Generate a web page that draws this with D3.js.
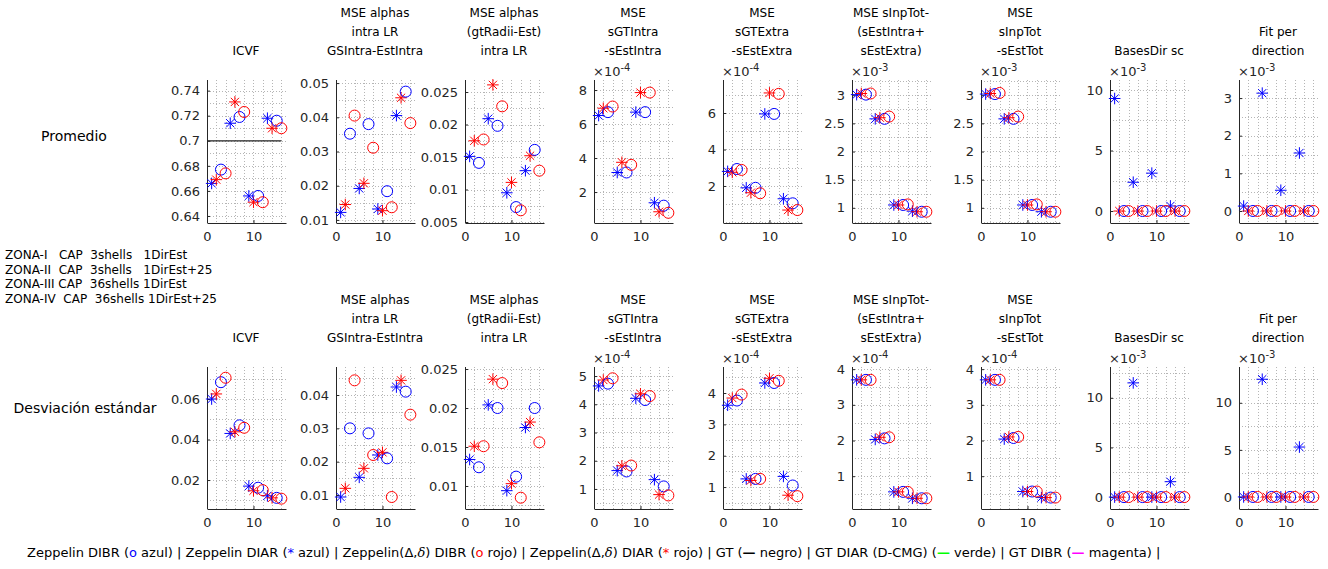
<!DOCTYPE html>
<html>
<head>
<meta charset="utf-8">
<script src="https://cdn.jsdelivr.net/npm/d3@7"></script>
<style>
  body { margin: 0; background: #fff; }
  svg text { font-family: "DejaVu Sans", sans-serif; }
</style>
</head>
<body>
<svg id="fig" width="1328" height="569"></svg>
<script>
// ---------------- data ----------------
const zoneLabels = [
  "ZONA-I   CAP  3shells   1DirEst",
  "ZONA-II  CAP  3shells   1DirEst+25",
  "ZONA-III CAP  36shells 1DirEst",
  "ZONA-IV  CAP  36shells 1DirEst+25"
];

const rowLabels = ["Promedio", "Desviación estándar"];

const panelTitles = [
  ["ICVF"],
  ["MSE alphas", "intra LR", "GSIntra-EstIntra"],
  ["MSE alphas", "(gtRadii-Est)", "intra LR"],
  ["MSE", "sGTIntra", "-sEstIntra"],
  ["MSE", "sGTExtra", "-sEstExtra"],
  ["MSE sInpTot-", "(sEstIntra+", "sEstExtra)"],
  ["MSE", "sInpTot", "-sEstTot"],
  ["BasesDir sc"],
  ["Fit per", "direction"]
];

// series order inside each zone: DIAR azul (*), DIAR rojo (*), DIBR azul (o), DIBR rojo (o)
const seriesNames = ["Zeppelin DIAR", "Zeppelin(Δ,δ) DIAR", "Zeppelin DIBR", "Zeppelin(Δ,δ) DIBR"];
const seriesMarkers = ["star", "star", "circle", "circle"];
const seriesColors = ["#0000ff", "#ff0000", "#0000ff", "#ff0000"];

// Promedio: one row per metric, four zones each
const promedioDiarAzul = [
  [0.666, 0.714, 0.656, 0.718],
  [0.0122, 0.0192, 0.0132, 0.0405],
  [0.0151, 0.0209, 0.0095, 0.0129],
  [6.50e-4, 3.15e-4, 6.70e-4, 1.37e-4],
  [2.80e-4, 1.90e-4, 5.95e-4, 1.30e-4],
  [3.01e-3, 2.58e-3, 1.05e-3, 0.94e-3],
  [3.02e-3, 2.58e-3, 1.05e-3, 0.93e-3],
  [9.30e-3, 2.38e-3, 3.13e-3, 0.42e-3],
  [0.13e-3, 3.13e-3, 0.55e-3, 1.54e-3]
];
const promedioDiarRojo = [
  [0.669, 0.731, 0.651, 0.710],
  [0.0145, 0.0207, 0.0127, 0.0457],
  [0.0175, 0.0261, 0.0111, 0.0152],
  [6.93e-4, 3.75e-4, 7.85e-4, 0.84e-4],
  [2.75e-4, 1.63e-4, 7.10e-4, 0.68e-4],
  [3.03e-3, 2.60e-3, 1.05e-3, 0.93e-3],
  [3.03e-3, 2.60e-3, 1.05e-3, 0.93e-3],
  [0, 0, 0, 0],
  [0, 0, 0, 0]
];
const promedioDibrAzul = [
  [0.677, 0.719, 0.656, 0.716],
  [0.0352, 0.0380, 0.0184, 0.0475],
  [0.0141, 0.0198, 0.0073, 0.0161],
  [6.70e-4, 3.15e-4, 6.70e-4, 1.20e-4],
  [2.93e-4, 1.90e-4, 5.95e-4, 1.05e-4],
  [3.01e-3, 2.58e-3, 1.05e-3, 0.93e-3],
  [3.02e-3, 2.58e-3, 1.05e-3, 0.93e-3],
  [0, 0, 0, 0],
  [0, 0, 0, 0]
];
const promedioDibrRojo = [
  [0.674, 0.723, 0.651, 0.710],
  [0.0405, 0.0311, 0.0137, 0.0383],
  [0.0177, 0.0228, 0.0068, 0.0129],
  [7.03e-4, 3.60e-4, 7.85e-4, 0.78e-4],
  [2.88e-4, 1.60e-4, 7.05e-4, 0.68e-4],
  [3.03e-3, 2.62e-3, 1.06e-3, 0.93e-3],
  [3.04e-3, 2.62e-3, 1.06e-3, 0.93e-3],
  [0, 0, 0, 0],
  [0, 0, 0, 0]
];

// Desviación estándar
const desvDiarAzul = [
  [0.0600, 0.0430, 0.0170, 0.0122],
  [0.0094, 0.0153, 0.0220, 0.0424],
  [0.0134, 0.0204, 0.0094, 0.0175],
  [4.65e-4, 1.65e-4, 4.21e-4, 1.33e-4],
  [3.61e-4, 1.26e-4, 4.32e-4, 1.34e-4],
  [3.70e-4, 2.03e-4, 0.56e-4, 0.38e-4],
  [3.70e-4, 2.04e-4, 0.57e-4, 0.40e-4],
  [0, 11.5e-3, 0, 1.55e-3],
  [0, 12.5e-3, 0, 5.30e-3]
];
const desvDiarRojo = [
  [0.0625, 0.0438, 0.0147, 0.0112],
  [0.0120, 0.0180, 0.0228, 0.0444],
  [0.0151, 0.0237, 0.0103, 0.0182],
  [4.86e-4, 1.82e-4, 4.37e-4, 0.80e-4],
  [3.84e-4, 1.21e-4, 4.47e-4, 0.74e-4],
  [3.70e-4, 2.09e-4, 0.56e-4, 0.38e-4],
  [3.70e-4, 2.10e-4, 0.57e-4, 0.40e-4],
  [0, 0, 0, 0],
  [0, 0, 0, 0]
];
const desvDibrAzul = [
  [0.0683, 0.0470, 0.0162, 0.0112],
  [0.0300, 0.0285, 0.0210, 0.0410],
  [0.0124, 0.0200, 0.0112, 0.0200],
  [4.73e-4, 1.62e-4, 4.15e-4, 1.09e-4],
  [3.76e-4, 1.26e-4, 4.32e-4, 1.05e-4],
  [3.70e-4, 2.06e-4, 0.56e-4, 0.38e-4],
  [3.70e-4, 2.07e-4, 0.57e-4, 0.40e-4],
  [0, 0, 0, 0],
  [0, 0, 0, 0]
];
const desvDibrRojo = [
  [0.0705, 0.0458, 0.0150, 0.0108],
  [0.0444, 0.0220, 0.0094, 0.0341],
  [0.0151, 0.0232, 0.0085, 0.0156],
  [4.92e-4, 1.83e-4, 4.29e-4, 0.77e-4],
  [3.95e-4, 1.26e-4, 4.39e-4, 0.71e-4],
  [3.70e-4, 2.09e-4, 0.56e-4, 0.38e-4],
  [3.70e-4, 2.10e-4, 0.57e-4, 0.40e-4],
  [0, 0, 0, 0],
  [0, 0, 0, 0]
];

// ground-truth reference (ICVF mean only)
const gtIcvf = 0.7;

// y axis: exponent shown above the axis, tick marks and limits in axis units
const promedioExponents = [0, 0, 0, -4, -4, -3, -3, -3, -3];
const promedioTicks = [
  [0.64, 0.66, 0.68, 0.7, 0.72, 0.74],
  [0.01, 0.02, 0.03, 0.04, 0.05],
  [0.005, 0.01, 0.015, 0.02, 0.025],
  [2, 4, 6, 8],
  [2, 4, 6],
  [1, 1.5, 2, 2.5, 3],
  [1, 1.5, 2, 2.5, 3],
  [0, 5, 10],
  [0, 1, 2, 3]
];
const promedioLimits = [
  [0.6344, 0.7485], [0.0091, 0.0509], [0.00485, 0.02685], [0.18, 8.59], [-0.03, 7.81],
  [0.73, 3.27], [0.73, 3.27], [-0.99, 10.83], [-0.32, 3.48]
];

const desvExponents = [0, 0, 0, -4, -4, -4, -4, -3, -3];
const desvTicks = [
  [0.02, 0.04, 0.06],
  [0.01, 0.02, 0.03, 0.04],
  [0.01, 0.015, 0.02, 0.025],
  [1, 2, 3, 4, 5],
  [1, 2, 3, 4],
  [1, 2, 3, 4],
  [1, 2, 3, 4],
  [0, 5, 10],
  [0, 5, 10]
];
const desvLimits = [
  [0.0057, 0.0758], [0.0058, 0.0484], [0.00705, 0.02526], [0.29, 5.32], [0.30, 4.83],
  [0.08, 4.06], [0.08, 4.06], [-1.2, 13.1], [-1.28, 13.8]
];

const xTicks = [0, 10];
const xLimits = [0, 17];

// ---------------- layout ----------------
const svg = d3.select("#fig");
const ink = "#262626";
const gridInk = "#b5b5b5";

const layout = {
  left0: 207, step: 129, width: 79,
  rows: [
    { top: 80, bottom: 223, titleBase: 55 },
    { top: 367, bottom: 509, titleBase: 342 }
  ]
};

const rows = [
  { label: rowLabels[0], exps: promedioExponents, ticks: promedioTicks, limits: promedioLimits,
    series: [promedioDiarAzul, promedioDiarRojo, promedioDibrAzul, promedioDibrRojo], labelX: 74, labelY: 141 },
  { label: rowLabels[1], exps: desvExponents, ticks: desvTicks, limits: desvLimits,
    series: [desvDiarAzul, desvDiarRojo, desvDibrAzul, desvDibrRojo], labelX: 85, labelY: 413 }
];

const starPath = "M-5.8,0H5.8M0,-5.8V5.8M-4.1,-4.1L4.1,4.1M-4.1,4.1L4.1,-4.1";

function fmt(v) {
  return String(+v.toFixed(6));
}

rows.forEach((row, r) => {
  const geo = layout.rows[r];

  svg.append("text")
    .attr("x", row.labelX).attr("y", row.labelY)
    .attr("text-anchor", "middle")
    .attr("font-size", 14).attr("fill", "#000")
    .text(row.label);

  panelTitles.forEach((title, p) => {
    const x0 = layout.left0 + p * layout.step;
    const e = row.exps[p];
    const k = Math.pow(10, e);

    const x = d3.scaleLinear().domain(xLimits).range([x0, x0 + layout.width]);
    const y = d3.scaleLinear().domain(row.limits[p].map(v => v * k)).range([geo.bottom, geo.top]);

    const g = svg.append("g");

    // dotted grid (major + minor)
    const tks = row.ticks[p];
    const tStep = tks[1] - tks[0];
    const yGrid = [];
    for (let v = tks[0] - 4 * tStep; v <= tks[tks.length - 1] + 4 * tStep + 1e-9; v += tStep / 2) {
      const vv = +v.toFixed(8);
      if (vv >= row.limits[p][0] && vv <= row.limits[p][1]) yGrid.push(vv * k);
    }
    g.selectAll(".gy").data(yGrid).join("line")
      .attr("x1", x(xLimits[0])).attr("x2", x(xLimits[1]))
      .attr("y1", d => Math.round(y(d)) + 0.5).attr("y2", d => Math.round(y(d)) + 0.5)
      .attr("stroke", gridInk).attr("stroke-width", 1).attr("stroke-dasharray", "1,2");

    const xGrid = d3.range(2, xLimits[1] + 0.01, 2);
    g.selectAll(".gx").data(xGrid).join("line")
      .attr("x1", d => Math.round(x(d)) + 0.5).attr("x2", d => Math.round(x(d)) + 0.5)
      .attr("y1", geo.top).attr("y2", geo.bottom)
      .attr("stroke", gridInk).attr("stroke-width", 1).attr("stroke-dasharray", "1,2");

    // axes (ticks point inward)
    const yAxis = d3.axisLeft(y)
      .tickValues(tks.map(v => v * k))
      .tickFormat(v => fmt(v / k))
      .tickSizeInner(-3).tickSizeOuter(0).tickPadding(7);
    const ya = g.append("g").attr("transform", `translate(${x0},0)`).call(yAxis);

    const xAxis = d3.axisBottom(x)
      .tickValues(xTicks).tickFormat(d3.format("d"))
      .tickSizeInner(-3).tickSizeOuter(0).tickPadding(9);
    const xa = g.append("g").attr("transform", `translate(0,${geo.bottom})`).call(xAxis);

    [ya, xa].forEach(a => {
      a.select(".domain").attr("stroke", ink).attr("stroke-width", 1);
      a.selectAll(".tick line").attr("stroke", ink);
      a.selectAll(".tick text").attr("fill", ink).attr("font-size", 13)
        .attr("font-family", "DejaVu Sans, sans-serif");
    });
    ya.select(".domain").attr("d", `M0.5,${geo.bottom}V${geo.top}`);

    // exponent label
    if (e !== 0) {
      const t = g.append("text")
        .attr("x", x0 - 1).attr("y", geo.top - 4)
        .attr("font-size", 13).attr("fill", ink);
      t.append("tspan").text("×10");
      t.append("tspan").attr("dy", -5).attr("font-size", 10).text(String(e));
    }

    // title
    const tt = svg.append("text")
      .attr("text-anchor", "middle").attr("font-size", 12).attr("fill", "#000");
    title.forEach((line, i) => {
      tt.append("tspan")
        .attr("x", x0 + 39)
        .attr("y", geo.titleBase - (title.length - 1 - i) * 19)
        .text(line);
    });

    // ground truth line
    if (r === 0 && p === 0) {
      g.append("line")
        .attr("x1", x(0)).attr("x2", x(16))
        .attr("y1", y(gtIcvf)).attr("y2", y(gtIcvf))
        .attr("stroke", "#222").attr("stroke-width", 1.3);
    }

    // markers
    row.series.forEach((ser, s) => {
      const pts = ser[p].map((v, z) => ({ xi: z * 4 + s + 1, v }));
      if (seriesMarkers[s] === "circle") {
        g.selectAll(null).data(pts).join("circle")
          .attr("cx", d => x(d.xi)).attr("cy", d => y(d.v)).attr("r", 5.5)
          .attr("fill", "none").attr("stroke", seriesColors[s]).attr("stroke-width", 1);
      } else {
        g.selectAll(null).data(pts).join("path")
          .attr("transform", d => `translate(${x(d.xi)},${y(d.v)})`)
          .attr("d", starPath)
          .attr("fill", "none").attr("stroke", seriesColors[s]).attr("stroke-width", 1);
      }
    });
  });
});

// zone descriptions
svg.append("g").selectAll("text").data(zoneLabels).join("text")
  .attr("x", 5).attr("y", (d, i) => 259 + i * 14.7)
  .attr("font-size", 12).attr("fill", "#000")
  .attr("xml:space", "preserve").style("white-space", "pre")
  .text(d => d);

// legend line
const legendParts = [
  ["Zeppelin DIBR (", "#000"], ["o", "#0000ff"], [" azul) | Zeppelin DIAR (", "#000"], ["*", "#0000ff"],
  [" azul) | Zeppelin(Δ,", "#000"], ["δ", "#000", "italic"], [") DIBR (", "#000"], ["o", "#ff0000"],
  [" rojo) | Zeppelin(Δ,", "#000"], ["δ", "#000", "italic"], [") DIAR (", "#000"], ["*", "#ff0000"],
  [" rojo) | GT (", "#000"], ["—", "#000", "bold"], [" negro) | GT DIAR (D-CMG) (", "#000"], ["—", "#00ff00", "bold"],
  [" verde) | GT DIBR (", "#000"], ["—", "#ff00ff", "bold"], [" magenta) |", "#000"]
];
const lg = svg.append("text").attr("x", 27).attr("y", 557).attr("font-size", 13)
  .attr("xml:space", "preserve").style("white-space", "pre");
legendParts.forEach(([txt, col, st]) => {
  const ts = lg.append("tspan").attr("fill", col).text(txt);
  if (st === "italic") ts.attr("font-style", "italic").attr("font-family", "DejaVu Serif, serif");
  if (st === "bold") ts.attr("font-weight", "bold");
});
</script>
</body>
</html>
